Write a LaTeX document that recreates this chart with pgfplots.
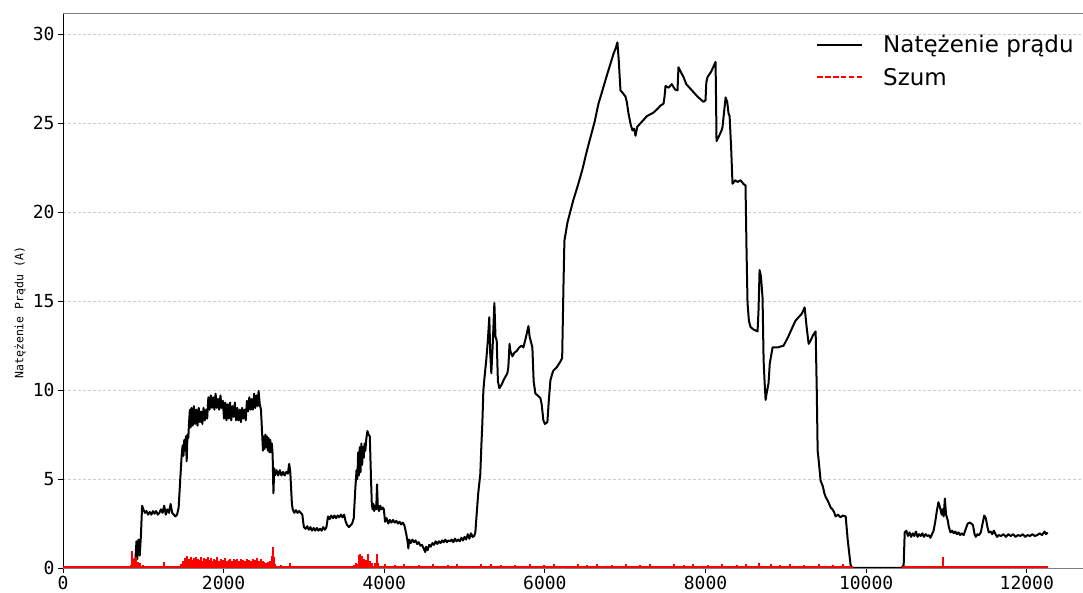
\documentclass[border=0pt]{standalone}
\usepackage{fontspec}
\setmainfont{DejaVu Sans}
\newfontfamily\monofont{DejaVu Sans Mono}
\usepackage{pgfplots}
\pgfplotsset{compat=1.18}
\definecolor{spinegray}{RGB}{128,128,128}
\definecolor{gridgray}{RGB}{205,205,205}
\begin{document}
\begin{tikzpicture}
\useasboundingbox (-63pt,-25pt) rectangle (1020pt,568pt);
\begin{axis}[
  at={(0pt,0pt)}, anchor=south west,
  scale only axis, width=1020pt, height=555pt,
  xmin=0, xmax=12700, ymin=0, ymax=31.2,
  axis x line*=bottom, axis y line*=left,
  x axis line style={-, draw=spinegray, line width=0.9pt},
  y axis line style={-, draw=black, line width=0.9pt},
  xtick={0,2000,4000,6000,8000,10000,12000},
  ytick={0,5,10,15,20,25,30},
  scaled x ticks=false,
  /pgf/number format/1000 sep={},
  /pgf/number format/assume math mode=true,
  tick align=outside, xtick pos=left, ytick pos=left,
  major tick length=5pt,
  tick style={black, line width=0.9pt},
  tick label style={font=\monofont\fontsize{18}{18}\selectfont},
  ymajorgrids,
  grid style={gridgray, dash pattern=on 3pt off 2pt, line width=0.7pt},
  ylabel={Natężenie Prądu (A)},
  ylabel style={font=\monofont\fontsize{11.5}{12}\selectfont, at={(axis description cs:-0.042,0.46)}, anchor=center},
  legend style={draw=none, fill=none, at={(rel axis cs:0.993,0.964)}, anchor=north east,
    font=\fontsize{23}{26}\selectfont, inner sep=0pt, row sep=10pt, column sep=18pt,
    nodes={inner sep=2pt}},
  legend cell align=left,
  legend image code/.code={\draw[mark repeat=2,mark phase=2,#1] plot coordinates {(0pt,0pt) (22pt,0pt) (45pt,0pt)};},
  clip=true,
]
\addplot[black, line width=2pt, line join=round] coordinates {
(0,0) (860,0) (870,0.5) (885,0.3) (900,0.4) (915,1.5) (925,0.5) (940,1.6) (955,0.7) (970,1.8) (985,3.5)
(1000,3.3) (1020,3.1) (1040,3.2) (1060,3.0) (1080,3.15) (1100,3.0) (1120,3.2) (1140,3.05) (1160,3.2) (1180,3.0)
(1200,3.1) (1220,3.3) (1240,3.1) (1260,3.5) (1280,3.0) (1300,3.3) (1320,3.1) (1340,3.6) (1360,3.1) (1380,3.0)
(1400,2.9) (1420,3.0) (1440,3.4) (1460,5.0) (1480,6.5) (1490,6.9) (1500,6.3) (1510,7.2) (1520,6.6) (1530,7.4)
(1540,6.0) (1550,7.5) (1560,7.3) (1570,8.2) (1580,8.9) (1590,7.9) (1600,9.0) (1615,8.0) (1630,9.1) (1645,8.1)
(1660,8.9) (1675,8.0) (1690,9.0) (1705,8.2) (1720,8.8) (1735,8.1) (1750,9.0) (1765,8.3) (1780,8.9) (1795,8.4)
(1810,9.6) (1825,8.9) (1840,9.7) (1855,9.0) (1870,9.6) (1885,8.9) (1900,9.8) (1915,9.0) (1930,9.5) (1945,8.9)
(1960,9.7) (1975,9.0) (1990,9.4) (2005,8.4) (2020,9.3) (2035,8.3) (2050,9.2) (2065,8.4) (2080,9.3) (2095,8.3)
(2110,9.1) (2125,8.5) (2140,9.3) (2155,8.3) (2170,9.0) (2185,8.3) (2200,8.9) (2215,8.2) (2230,9.0) (2245,8.4)
(2260,8.9) (2275,8.3) (2290,9.4) (2305,8.8) (2320,9.6) (2335,8.9) (2350,9.5) (2365,8.9) (2380,9.8) (2395,9.0)
(2410,9.7) (2425,9.1) (2435,9.95) (2450,9.2) (2465,8.9)
(2480,7.5) (2490,6.6) (2500,7.4) (2510,6.7) (2520,7.5) (2530,6.8) (2540,7.4) (2550,6.6) (2560,7.3) (2570,6.5)
(2580,7.2) (2590,6.5) (2600,7.0) (2610,6.4) (2620,4.2) (2630,5.6) (2640,5.2) (2660,5.5) (2680,5.2) (2700,5.5)
(2720,5.2) (2740,5.4) (2760,5.2) (2780,5.4) (2800,5.3) (2816,5.85) (2830,5.4) (2850,3.6) (2860,3.3) (2880,3.1)
(2900,3.25) (2920,3.1) (2940,3.2) (2960,3.1) (2980,3.0) (2990,2.6) (3000,2.3) (3020,2.2) (3040,2.35) (3060,2.15)
(3080,2.3) (3100,2.1) (3120,2.25) (3140,2.1) (3160,2.25) (3180,2.1) (3200,2.2) (3220,2.1) (3240,2.3) (3260,2.15)
(3280,2.3) (3300,2.9) (3320,2.75) (3340,2.95) (3360,2.8) (3380,2.95) (3400,2.8) (3420,2.95) (3440,2.85) (3460,3.0)
(3480,2.85) (3500,3.0) (3520,2.6) (3540,2.4) (3560,2.3) (3580,2.4) (3600,2.5) (3620,2.8) (3640,4.5) (3655,5.5)
(3665,5.0) (3675,6.5) (3685,5.2) (3695,6.8) (3705,5.4) (3715,7.0) (3725,5.8) (3735,6.8) (3745,6.2) (3755,7.0)
(3765,6.6) (3775,7.2) (3790,7.7) (3805,7.5) (3820,7.4) (3835,5.0) (3845,3.6) (3855,3.3) (3865,3.6) (3875,3.2)
(3885,3.5) (3900,3.3) (3910,4.7) (3920,3.4) (3935,3.2) (3950,3.5) (3965,3.3) (3980,3.4) (3995,3.3) (4010,2.6)
(4030,2.8) (4050,2.5) (4070,2.7) (4090,2.55) (4110,2.7) (4130,2.55) (4150,2.65) (4170,2.5) (4190,2.6) (4210,2.45)
(4230,2.55) (4250,2.4) (4270,2.0) (4290,1.5) (4300,1.1) (4310,1.6) (4330,1.4) (4350,1.6) (4370,1.45) (4390,1.55)
(4410,1.35) (4430,1.45) (4450,1.25) (4470,1.3) (4490,1.1) (4510,0.9) (4520,1.2) (4540,1.0) (4560,1.3) (4580,1.2)
(4600,1.4) (4620,1.3) (4640,1.5) (4660,1.35) (4680,1.5) (4700,1.4) (4720,1.55) (4740,1.45) (4760,1.6) (4780,1.45)
(4800,1.55) (4820,1.5) (4840,1.6) (4860,1.45) (4880,1.65) (4900,1.5) (4920,1.6) (4940,1.5) (4960,1.7) (4980,1.55)
(5000,1.75) (5020,1.6) (5040,1.9) (5060,1.65) (5080,1.95) (5100,1.75) (5120,1.8) (5134,2.0) (5150,3.0) (5170,4.2)
(5196,5.3) (5210,7.0) (5221,8.1) (5234,10.0) (5250,10.8) (5270,11.7) (5290,12.8) (5308,14.1) (5320,12.0) (5333,10.95)
(5350,12.5) (5371,14.9) (5385,13.0) (5400,12.8) (5415,10.5) (5433,10.1) (5460,10.3) (5490,10.6) (5533,10.95) (5545,11.3)
(5560,12.6) (5570,12.2) (5595,11.9) (5620,12.1) (5650,12.2) (5680,12.4) (5710,12.5) (5732,12.4) (5760,12.9) (5795,13.6)
(5810,13.0) (5844,12.4) (5860,10.5) (5882,9.8) (5910,9.7) (5944,9.55) (5960,9.2) (5981,8.3) (6000,8.1) (6031,8.2)
(6050,9.5) (6069,10.55) (6090,10.9) (6106,11.1) (6150,11.3) (6193,11.6) (6215,11.8) (6231,15.8) (6243,18.4) (6280,19.4)
(6320,20.1) (6355,20.7) (6410,21.5) (6467,22.4) (6520,23.4) (6567,24.2) (6620,25.1) (6667,26.1) (6720,26.9) (6779,27.8)
(6820,28.4) (6854,28.9) (6880,29.2) (6903,29.55) (6920,28.5) (6941,26.85) (6970,26.7) (7003,26.5) (7020,26.2) (7041,25.55)
(7070,24.9) (7090,24.6) (7110,24.7) (7128,24.3) (7150,24.8) (7190,25.0) (7230,25.2) (7270,25.4) (7310,25.5) (7352,25.6)
(7400,25.8) (7440,26.0) (7477,26.1) (7490,26.5) (7502,27.1) (7540,27.0) (7580,27.2) (7620,26.9) (7651,26.85) (7663,28.15)
(7690,27.9) (7726,27.6) (7760,27.2) (7800,27.0) (7850,26.75) (7900,26.5) (7950,26.3) (7975,26.2) (8000,26.3) (8010,27.3)
(8025,27.6) (8070,27.9) (8100,28.2) (8125,28.45) (8132,26.0) (8137,24.0) (8170,24.3) (8200,24.6) (8212,24.8) (8230,25.6)
(8250,26.45) (8270,26.2) (8287,25.55) (8300,25.4) (8320,23.5) (8336,21.6) (8370,21.8) (8400,21.7) (8436,21.8) (8470,21.6)
(8498,21.5) (8510,18.0) (8523,14.9) (8540,13.9) (8560,13.55) (8600,13.4) (8648,13.3) (8660,14.5) (8673,16.75) (8690,16.4)
(8710,15.2) (8723,11.7) (8735,10.5) (8748,9.45) (8760,9.8) (8785,10.4) (8800,11.5) (8835,12.4) (8900,12.4) (8972,12.5)
(9030,13.0) (9084,13.55) (9120,13.9) (9159,14.1) (9200,14.3) (9234,14.65) (9260,13.5) (9284,12.6) (9310,12.8) (9340,13.1)
(9371,13.3) (9385,10.0) (9396,6.6) (9410,6.0) (9433,4.9) (9460,4.6) (9480,4.2) (9495,4.0) (9520,3.8) (9540,3.6)
(9558,3.4) (9580,3.3) (9600,3.15) (9620,2.9) (9650,3.0) (9680,2.85) (9710,2.95) (9745,2.9) (9770,1.6) (9790,0.8)
(9807,0.15) (9830,0) (10440,0) (10467,0.15) (10480,2.0)
(10500,2.1) (10520,1.8) (10540,2.0) (10560,1.75) (10580,1.95) (10600,1.8) (10620,2.05) (10640,1.75) (10660,1.9) (10680,1.8)
(10700,1.95) (10720,1.75) (10740,1.9) (10760,1.8) (10780,1.85) (10800,1.7) (10820,1.9) (10840,2.1) (10860,2.6) (10880,3.2)
(10900,3.7) (10920,3.4) (10940,3.0) (10950,3.3) (10965,2.9) (10980,3.9) (10995,3.0) (11015,2.7) (11030,2.3) (11050,2.0)
(11070,2.1) (11090,1.95) (11110,2.05) (11130,1.9) (11150,2.0) (11170,1.85) (11190,1.95) (11215,1.85) (11240,2.2) (11265,2.5)
(11290,2.55) (11310,2.5) (11330,2.4) (11350,1.9) (11365,1.75) (11385,1.9) (11405,1.85) (11427,2.0) (11450,2.5) (11470,2.95)
(11490,2.8) (11510,2.3) (11527,2.0) (11550,2.05) (11570,1.9) (11590,2.1) (11610,1.9) (11630,1.75) (11650,1.85) (11680,1.8)
(11710,1.9) (11740,1.75) (11770,1.9) (11800,1.8) (11830,1.9) (11860,1.75) (11890,1.85) (11920,1.8) (11950,1.9) (11980,1.75)
(12010,1.85) (12040,1.8) (12070,1.9) (12100,1.8) (12130,1.85) (12160,1.95) (12190,1.85) (12220,2.05) (12240,1.9) (12260,2.0)
};
\addlegendentry{Natężenie prądu}
\addplot[red, line width=3.2pt, forget plot] coordinates {(0,0.05) (9830,0.05)};
\addplot[red, line width=3.2pt, forget plot] coordinates {(10450,0.05) (12260,0.05)};
\addplot[red, ycomb, line width=2pt,
  legend image code/.code={\draw[red, line width=2pt, dash pattern=on 5.5pt off 2.4pt] (0pt,0pt) -- (45pt,0pt);}] coordinates {
(850,0.15) (862,0.95) (874,0.3) (886,0.5) (898,0.2) (910,0.6) (922,0.25) (934,0.35) (946,0.15) (958,0.3) (970,0.1) (990,0.15)
(1020,0.05) (1060,0.08) (1100,0.05) (1150,0.1) (1200,0.06) (1240,0.08) (1262,0.35) (1280,0.06) (1320,0.1) (1360,0.05) (1400,0.12) (1440,0.08) (1470,0.2)
(1500,0.4) (1512,0.2) (1524,0.55) (1536,0.3) (1548,0.65) (1560,0.25) (1572,0.5) (1584,0.35) (1596,0.6) (1608,0.2)
(1620,0.45) (1632,0.55) (1644,0.25) (1656,0.6) (1668,0.3) (1680,0.5) (1692,0.2) (1704,0.45) (1716,0.6) (1728,0.3)
(1740,0.4) (1752,0.55) (1764,0.2) (1776,0.5) (1788,0.35) (1800,0.6) (1812,0.25) (1824,0.45) (1836,0.3) (1848,0.55)
(1860,0.2) (1872,0.4) (1884,0.5) (1896,0.25) (1908,0.45) (1920,0.6) (1932,0.3) (1944,0.4) (1956,0.2) (1968,0.5)
(1980,0.35) (1992,0.45) (2004,0.25) (2016,0.55) (2028,0.3) (2040,0.4) (2052,0.2) (2064,0.45) (2076,0.5) (2088,0.25)
(2100,0.4) (2112,0.3) (2124,0.5) (2136,0.2) (2148,0.45) (2160,0.35) (2172,0.5) (2184,0.25) (2196,0.4) (2208,0.3)
(2220,0.5) (2232,0.2) (2244,0.45) (2256,0.3) (2268,0.4) (2280,0.25) (2292,0.5) (2304,0.3) (2316,0.45) (2328,0.2)
(2340,0.4) (2352,0.3) (2364,0.5) (2376,0.25) (2388,0.45) (2400,0.3) (2412,0.55) (2424,0.2) (2436,0.4) (2448,0.35)
(2460,0.5) (2472,0.25) (2484,0.4) (2496,0.2) (2508,0.35) (2520,0.15) (2532,0.3) (2544,0.2) (2556,0.35) (2568,0.2)
(2580,0.4) (2592,0.3) (2604,0.7) (2616,1.2) (2628,0.6) (2640,0.2) (2660,0.1) (2690,0.05) (2720,0.15) (2760,0.05)
(2800,0.08) (2830,0.3) (2850,0.1) (2900,0.05) (2950,0.08) (3000,0.04) (3060,0.06) (3120,0.05) (3180,0.1) (3240,0.04)
(3300,0.12) (3360,0.05) (3420,0.08) (3480,0.05) (3540,0.1) (3580,0.05) (3620,0.15) (3650,0.3) (3665,0.2) (3680,0.75)
(3692,0.5) (3704,0.8) (3716,0.4) (3728,0.65) (3740,0.3) (3752,0.5) (3764,0.2) (3776,0.45) (3788,0.3) (3800,0.8)
(3812,0.2) (3824,0.4) (3836,0.15) (3848,0.3) (3860,0.1) (3885,0.3) (3900,0.2) (3912,0.8) (3924,0.3) (3940,0.06)
(3950,0.1) (4010,0.2) (4070,0.06) (4130,0.15) (4190,0.08) (4250,0.25) (4310,0.05) (4370,0.12) (4430,0.18) (4490,0.07)
(4550,0.14) (4610,0.22) (4670,0.06) (4730,0.1) (4790,0.16) (4850,0.05) (4910,0.2) (4970,0.09) (5030,0.13) (5090,0.07)
(5150,0.1) (5210,0.2) (5270,0.06) (5330,0.25) (5390,0.08) (5450,0.15) (5510,0.05) (5570,0.12) (5630,0.18) (5690,0.07)
(5750,0.14) (5810,0.22) (5870,0.06) (5930,0.1) (5990,0.16) (6050,0.05) (6110,0.2) (6170,0.09) (6230,0.13) (6290,0.07)
(6350,0.1) (6410,0.2) (6470,0.06) (6530,0.15) (6590,0.08) (6650,0.25) (6710,0.05) (6770,0.12) (6830,0.18) (6890,0.07)
(6950,0.14) (7010,0.22) (7070,0.06) (7130,0.1) (7190,0.16) (7250,0.05) (7310,0.2) (7370,0.09) (7430,0.13) (7490,0.07)
(7550,0.1) (7610,0.2) (7670,0.06) (7730,0.15) (7790,0.08) (7850,0.25) (7910,0.05) (7970,0.12) (8030,0.18) (8090,0.07)
(8150,0.14) (8210,0.22) (8270,0.06) (8330,0.1) (8390,0.16) (8450,0.05) (8510,0.2) (8570,0.09) (8630,0.13) (8670,0.3)
(8750,0.1) (8810,0.2) (8870,0.06) (8930,0.15) (8990,0.08) (9050,0.25) (9110,0.05) (9170,0.12) (9230,0.18) (9290,0.07)
(9350,0.14) (9410,0.22) (9470,0.06) (9530,0.1) (9590,0.16) (9650,0.05) (9710,0.2) (9770,0.09) (9810,0.13)
(10460,0.1) (10520,0.06) (10580,0.12) (10640,0.05) (10700,0.1) (10760,0.07) (10820,0.12) (10880,0.05) (10960,0.6) (11000,0.08)
(11060,0.1) (11120,0.05) (11180,0.08) (11240,0.06) (11300,0.12) (11360,0.05) (11420,0.09) (11480,0.06) (11540,0.1) (11600,0.05)
(11660,0.08) (11720,0.06) (11780,0.1) (11840,0.05) (11900,0.08) (11960,0.06) (12020,0.1) (12080,0.05) (12140,0.08) (12200,0.06) (12250,0.05)
};
\addlegendentry{Szum}
\end{axis}
\draw[spinegray, line width=0.9pt] (0pt,555pt) -- (1020pt,555pt);
\end{tikzpicture}
\end{document}
